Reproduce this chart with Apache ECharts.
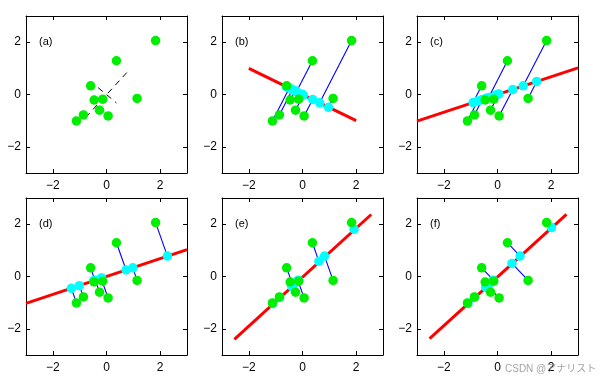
<!DOCTYPE html>
<html>
<head>
<meta charset="utf-8">
<script src="https://cdn.jsdelivr.net/npm/echarts@6/dist/echarts.min.js"></script>
<style>html,body{margin:0;padding:0;background:#fff}#c{width:612px;height:385px}</style>
</head>
<body>
<div id="c"></div>
<script>
// ---- data ----
var panelLabels = ['(a)', '(b)', '(c)', '(d)', '(e)', '(f)'];
var tickValues = [-2, 0, 2];
var greenX = [1.83, 0.37, -0.59, -0.46, -0.14, 1.14, -0.26, 0.06, -0.86, -1.12];
var greenY = [2.06, 1.29, 0.33, -0.21, -0.18, -0.15, -0.60, -0.82, -0.78, -1.01];

// principal axes (dashed) in panel (a)
var axisA1 = [[-0.78, -0.88], [0.83, 0.92]];
var axisA2 = [[-0.31, 0.26], [0.37, -0.32]];

// cyan projected points, panels b..f
var cyanBX = [0.64, -0.22, -0.60, -0.28, -0.04, 0.97, 0.03, 0.38, -0.38, -0.49];
var cyanBY = [-0.32, 0.11, 0.30, 0.14, 0.02, -0.49, -0.02, -0.19, 0.19, 0.25];
var cyanCX = [0.96, -0.33, -0.91, -0.43, -0.06, 1.46, 0.05, 0.57, -0.57, -0.74];
var cyanCY = [0.33, -0.11, -0.31, -0.15, -0.02, 0.50, 0.02, 0.19, -0.19, -0.25];
var cyanDX = [2.27, 0.73, -0.43, -0.48, -0.18, 0.98, -0.42, -0.20, -1.01, -1.31];
var cyanDY = [0.78, 0.25, -0.15, -0.16, -0.06, 0.33, -0.14, -0.07, -0.35, -0.45];
var cyanEX = [1.92, 0.61, -0.36, -0.40, -0.15, 0.82, -0.35, -0.17, -0.85, -1.11];
var cyanEY = [1.81, 0.58, -0.34, -0.38, -0.14, 0.78, -0.33, -0.16, -0.80, -1.04];
var cyanFX = [2.01, 0.84, -0.15, -0.35, -0.17, 0.54, -0.44, -0.38, -0.85, -1.10];
var cyanFY = [1.87, 0.78, -0.14, -0.33, -0.15, 0.50, -0.41, -0.35, -0.79, -1.03];

// red subspace lines (end points), panels b..f
var redB = [[-2, 1], [2, -1]];
var redC = [[-3, -1.02], [3, 1.02]];
var redD = [[-3, -1.03], [3, 1.03]];
var redE = [[-2.54, -2.40], [2.56, 2.37]];
var redF = [[-2.53, -2.37], [2.57, 2.37]];

// ---- build chart ----
var chart = echarts.init(document.getElementById('c'), null, {renderer: 'canvas'});
var colLeft = [26, 222, 417];
var rowTop = [16, 198];
var gw = 161, gh = 157;
var FONT = 'Liberation Sans, Arial, sans-serif';
function fmt(v) { return v < 0 ? '\u2212' + (-v) : String(v); }

var grids = [], xAxes = [], yAxes = [], series = [], graphics = [];
for (var i = 0; i < 6; i++) {
  var r = Math.floor(i / 3), c = i % 3;
  grids.push({left: colLeft[c], top: rowTop[r], width: gw, height: gh, containLabel: false, show: false});
  var base = {
    type: 'value', min: -3, max: 3, gridIndex: i,
    splitLine: {show: false},
    axisLine: {show: true, onZero: false, lineStyle: {color: '#000', width: 1}},
    axisTick: {show: true, inside: true, length: 4, customValues: tickValues, lineStyle: {color: '#000'}}
  };
  xAxes.push(Object.assign({}, base, {position: 'bottom',
    axisLabel: {show: true, customValues: tickValues, formatter: fmt, color: '#000', fontSize: 12, fontFamily: FONT, margin: 7}}));
  xAxes.push(Object.assign({}, base, {position: 'top', axisLabel: {show: false}}));
  yAxes.push(Object.assign({}, base, {position: 'left',
    axisLabel: {show: true, customValues: tickValues, formatter: fmt, color: '#000', fontSize: 12, fontFamily: FONT, margin: 5}}));
  yAxes.push(Object.assign({}, base, {position: 'right', axisLabel: {show: false}}));

  graphics.push({type: 'text', left: colLeft[c] + 13, top: rowTop[r] + 20,
    style: {text: panelLabels[i], fontSize: 11, fontFamily: FONT, fill: '#000'}, z: 100});
}

function pairs(xs, ys) { return xs.map(function (x, k) { return [x, ys[k]]; }); }
var greenPts = pairs(greenX, greenY);
var cyanSets = [null, pairs(cyanBX, cyanBY), pairs(cyanCX, cyanCY), pairs(cyanDX, cyanDY), pairs(cyanEX, cyanEY), pairs(cyanFX, cyanFY)];
var redSets = [null, redB, redC, redD, redE, redF];

for (var p = 0; p < 6; p++) {
  var xi = p * 2, yi = p * 2;
  if (p === 0) {
    [axisA1, axisA2].forEach(function (seg) {
      series.push({type: 'line', xAxisIndex: xi, yAxisIndex: yi, data: seg, symbol: 'none', silent: true,
        lineStyle: {color: '#000', width: 1, type: [6, 5]}, z: 2});
    });
  } else {
    var cy = cyanSets[p];
    series.push({type: 'lines', coordinateSystem: 'cartesian2d', xAxisIndex: xi, yAxisIndex: yi, silent: true,
      data: greenPts.map(function (g, k) { return {coords: [g, cy[k]]}; }),
      lineStyle: {color: '#0000ff', width: 1.1, opacity: 1}, z: 2});
    series.push({type: 'line', xAxisIndex: xi, yAxisIndex: yi, data: redSets[p], symbol: 'none', silent: true,
      clip: true, lineStyle: {color: '#ff0000', width: 3}, z: 3});
    series.push({type: 'scatter', xAxisIndex: xi, yAxisIndex: yi, data: cy, symbolSize: 9.5, silent: true,
      itemStyle: {color: '#00ffff', opacity: 1}, z: 4});
  }
  series.push({type: 'scatter', xAxisIndex: xi, yAxisIndex: yi, data: greenPts, symbolSize: 9.5, silent: true,
    itemStyle: {color: '#00ee00', opacity: 1}, z: 5});
}

graphics.push({type: 'text', left: 505, top: 364,
  style: {text: 'CSDN @アナリスト', fontSize: 10, fontFamily: 'Liberation Sans, Noto Sans CJK JP, sans-serif', fill: 'rgba(140,140,140,0.8)'}, z: 200});

chart.setOption({
  animation: false,
  backgroundColor: '#fff',
  grid: grids,
  xAxis: xAxes,
  yAxis: yAxes,
  series: series,
  graphic: graphics
});
</script>
</body>
</html>
